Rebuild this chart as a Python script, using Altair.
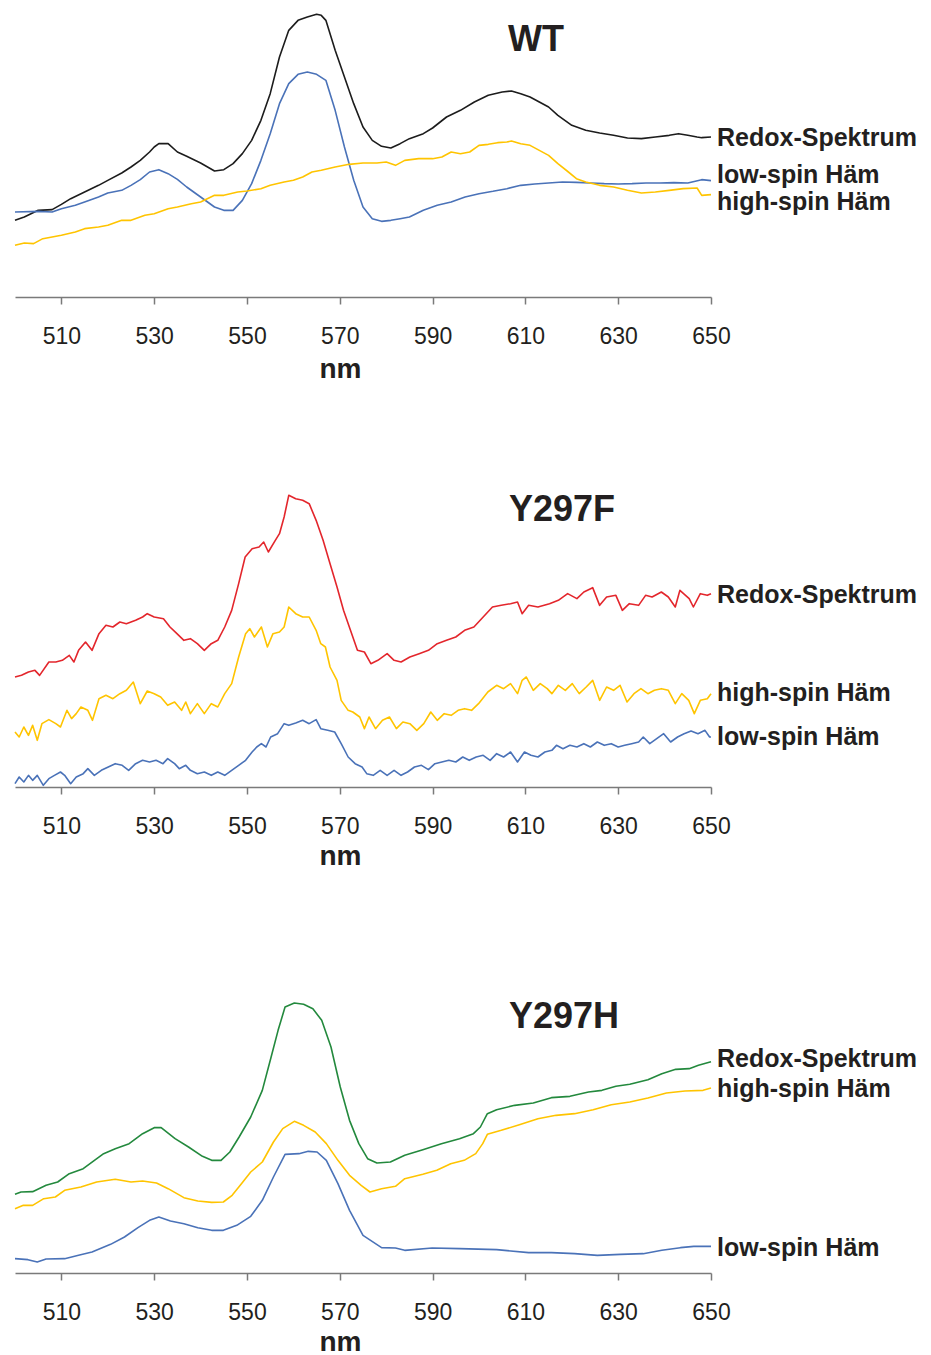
import altair as alt
import pandas as pd

# ---------------- data (difference absorbance, arbitrary units) ----------------
# Panel WT
WT_REDOX_NM = [500, 502, 505, 508, 510, 512, 515, 518, 520, 523, 525, 527, 529, 530, 531, 533, 535, 537, 540, 543,
               545, 547, 549, 551, 553, 555, 557, 559, 561, 563, 565, 566, 567, 569, 571, 573, 575, 577, 579, 581,
               583, 585, 588, 590, 593, 596, 599, 602, 605, 607, 609, 611, 613, 615, 617, 620, 623, 626, 629, 632,
               635, 638, 641, 643, 645, 647, 648, 650]
WT_REDOX = [230, 240, 260, 262, 278, 295, 315, 335, 350, 372, 390, 410, 435, 450, 460, 460, 435, 422, 402, 378,
            382, 400, 430, 470, 530, 610, 720, 800, 830, 840, 848, 845, 830, 740, 660, 580, 510, 470, 452, 447,
            460, 475, 490, 507, 540, 560, 585, 605, 615, 618, 610, 600, 585, 570, 545, 515, 500, 492, 485, 477,
            475, 480, 485, 490, 485, 480, 478, 480]

WT_LOW_NM = [500, 505, 508, 510, 513, 515, 518, 520, 523, 525, 527, 529, 531, 533, 535, 537, 540, 543, 545, 547,
             549, 551, 553, 555, 557, 559, 561, 563, 565, 567, 569, 571, 573, 575, 577, 579, 581, 583, 585, 588,
             591, 594, 597, 600, 603, 606, 609, 612, 615, 618, 621, 624, 627, 630, 633, 636, 639, 642, 645, 648, 650]
WT_LOW = [255, 257, 255, 265, 275, 285, 300, 312, 320, 335, 352, 375, 382, 370, 353, 330, 300, 270, 260, 260,
          290, 340, 410, 490, 580, 640, 668, 675, 668, 650, 560, 450, 350, 270, 235, 227, 230, 235, 240, 260,
          275, 285, 300, 310, 317, 325, 335, 339, 342, 345, 344, 342, 340, 339, 340, 342, 342, 343, 342, 352, 349]

WT_HIGH_NM = [500, 502, 504, 506, 508, 510, 513, 515, 518, 520, 523, 525, 528, 530, 533, 535, 538, 540, 543, 545,
              548, 550, 553, 555, 558, 560, 562, 564, 566, 569, 572, 575, 578, 580, 582, 584, 587, 590, 592, 594,
              596, 598, 600, 602, 604, 606, 607, 609, 611, 613, 615, 617, 619, 621, 623, 626, 629, 632, 635, 638,
              641, 644, 647, 648, 650]
WT_HIGH = [155, 162, 160, 175, 180, 185, 195, 205, 210, 215, 230, 230, 245, 250, 265, 270, 280, 285, 305, 305,
           315, 318, 325, 335, 345, 350, 360, 375, 380, 390, 398, 402, 402, 405, 395, 410, 415, 415, 420, 435,
           430, 435, 455, 458, 463, 465, 468, 460, 455, 440, 425, 400, 378, 355, 345, 335, 330, 320, 312, 315,
           320, 325, 327, 305, 307]

# Panel Y297F
F_REDOX_NM = [500.0, 501.4, 502.9, 504.3, 505.3, 507.3, 508.8, 510.2, 511.7, 512.7, 513.7, 515.2, 516.6, 518.1,
              519.6, 521.1, 522.6, 524.0, 526.0, 527.5, 528.5, 530.0, 532.0, 533.4, 534.9, 536.4, 537.8, 539.3,
              540.8, 542.3, 543.7, 545.2, 546.7, 548.2, 549.6, 551.1, 552.6, 553.6, 554.6, 556.1, 557.0, 558.0,
              559.0, 560.5, 562.0, 563.4, 564.9, 566.4, 567.9, 569.4, 570.8, 572.3, 573.8, 575.3, 576.7, 578.2,
              580.2, 581.7, 583.2, 585.1, 587.1, 589.1, 591.0, 593.0, 595.0, 596.9, 598.9, 600.9, 602.9, 604.8,
              606.8, 608.3, 609.3, 610.7, 612.7, 615.2, 617.1, 619.1, 621.1, 622.6, 624.5, 626.0, 627.5, 629.5,
              630.9, 632.4, 634.4, 635.9, 637.3, 639.3, 640.8, 642.3, 643.3, 645.3, 646.2, 647.7, 649.2, 650.0]
F_REDOX = [330, 335, 345, 350, 335, 375, 375, 380, 395, 375, 410, 435, 410, 460, 485, 480, 495, 490, 500, 510,
           520, 510, 505, 480, 460, 440, 445, 430, 410, 430, 440, 480, 530, 610, 690, 715, 720, 735, 705, 740,
           760, 810, 875, 865, 860, 850, 800, 740, 670, 600, 530, 470, 410, 405, 370, 380, 400, 380, 375, 390,
           400, 410, 430, 440, 450, 470, 480, 510, 540, 545, 550, 555, 520, 545, 540, 550, 560, 580, 565, 585,
           598, 545, 570, 575, 530, 550, 545, 575, 570, 585, 570, 540, 590, 565, 540, 580, 575, 580]

F_HIGH_NM = [500.0, 500.9, 501.9, 502.9, 503.8, 504.8, 505.8, 507.3, 508.8, 509.8, 511.2, 512.2, 513.2, 514.2,
             515.7, 516.7, 518.1, 519.6, 521.1, 522.6, 524.0, 525.5, 527.0, 528.5, 530.0, 531.4, 532.9, 534.4,
             535.9, 536.8, 537.8, 539.3, 540.8, 542.3, 543.7, 545.2, 546.7, 548.2, 549.7, 550.6, 551.6, 553.1,
             554.4, 555.6, 557.0, 558.0, 559.0, 560.5, 562.0, 563.4, 564.9, 565.9, 566.9, 567.9, 569.4, 570.3,
             571.8, 572.8, 574.3, 575.3, 576.3, 577.7, 579.2, 580.7, 582.2, 583.6, 585.1, 586.6, 588.1, 589.6,
             591.0, 592.5, 594.0, 595.5, 596.9, 598.4, 599.9, 601.9, 603.8, 605.3, 606.8, 608.3, 609.3, 610.2,
             611.7, 613.2, 614.7, 615.7, 617.1, 618.6, 620.1, 621.6, 623.1, 624.5, 626.0, 627.5, 629.0, 630.4,
             631.9, 633.4, 634.9, 636.4, 637.8, 639.3, 640.8, 642.3, 643.7, 645.2, 646.4, 647.7, 649.2, 650.0]
F_HIGH = [165, 150, 180, 155, 185, 140, 190, 202, 190, 180, 230, 205, 220, 240, 230, 200, 265, 275, 265, 280,
          290, 315, 250, 288, 280, 270, 245, 255, 230, 255, 220, 250, 220, 250, 240, 280, 310, 390, 460, 475,
          450, 480, 420, 460, 465, 480, 540, 520, 510, 510, 470, 430, 420, 360, 320, 260, 230, 225, 210, 175,
          210, 175, 200, 210, 175, 195, 190, 170, 190, 225, 200, 220, 215, 230, 235, 230, 250, 285, 305, 295,
          310, 280, 320, 330, 290, 310, 295, 280, 305, 290, 310, 280, 300, 320, 260, 300, 290, 305, 255, 280,
          295, 280, 290, 295, 290, 250, 280, 260, 220, 260, 265, 280]

F_LOW_NM = [500.0, 500.9, 501.9, 502.9, 503.8, 504.8, 506.1, 507.3, 508.5, 509.8, 510.7, 512.0, 513.2, 514.7,
            515.7, 517.1, 518.6, 520.1, 521.6, 523.1, 524.5, 526.0, 527.5, 529.0, 530.4, 531.9, 532.9, 534.4,
            535.4, 536.8, 537.8, 539.3, 540.8, 542.3, 543.7, 545.2, 546.7, 548.2, 549.7, 551.1, 552.1, 553.1,
            554.1, 555.1, 556.6, 558.0, 559.0, 560.5, 562.0, 563.4, 564.9, 565.9, 567.4, 568.9, 570.3, 571.8,
            573.3, 574.8, 575.8, 577.2, 578.7, 580.2, 581.7, 583.2, 584.6, 586.1, 587.6, 589.1, 590.5, 592.0,
            593.5, 595.0, 596.5, 597.9, 599.4, 600.9, 602.4, 603.8, 605.3, 606.8, 608.3, 609.8, 611.2, 612.7,
            614.2, 615.7, 616.7, 618.1, 619.6, 621.1, 622.6, 624.0, 625.5, 627.0, 628.5, 630.0, 631.4, 632.9,
            634.4, 635.4, 636.8, 638.3, 639.8, 641.3, 642.8, 644.2, 645.7, 647.2, 648.7, 649.7, 650.0]
F_LOW = [10, 30, 15, 35, 20, 35, 5, 25, 35, 45, 35, 10, 30, 40, 55, 35, 50, 60, 70, 65,
         50, 70, 80, 75, 80, 70, 85, 70, 55, 65, 50, 40, 45, 35, 45, 35, 50, 65, 80, 105,
         120, 130, 120, 150, 160, 190, 185, 192, 200, 190, 202, 175, 170, 165, 130, 90, 70, 60, 40, 35,
         50, 35, 50, 35, 45, 60, 65, 52, 70, 75, 80, 75, 90, 80, 90, 95, 80, 100, 90, 105,
         75, 105, 95, 90, 105, 110, 125, 115, 125, 120, 130, 120, 135, 125, 130, 120, 125, 130, 135, 150,
         130, 145, 160, 135, 150, 160, 168, 160, 170, 150, 150]

# Panel Y297H
H_REDOX_NM = [500, 501.3, 503.8, 506.7, 509.2, 511.7, 514.7, 519.1, 521.6, 524.6, 527.5, 530.0, 531.5, 534.5,
              537.4, 540.4, 542.4, 544.4, 546.3, 548.3, 550.8, 553.3, 555.2, 556.7, 558.2, 560.2, 562.2, 564.2,
              566.1, 568.1, 570.1, 572.1, 574.1, 576.0, 578.0, 580.9, 584.0, 587.9, 591.9, 595.8, 598.8, 600.3,
              601.8, 603.8, 607.7, 611.7, 615.6, 619.6, 623.6, 626.5, 629.5, 632.5, 636.4, 639.4, 642.4, 645.3,
              647.3, 650]
H_REDOX = [236, 243, 244, 263, 273, 298, 313, 358, 373, 388, 418, 436, 436, 403, 378, 350, 338, 338, 363, 408,
           468, 548, 648, 728, 798, 810, 806, 793, 758, 678, 558, 458, 388, 343, 330, 333, 353, 370, 388, 403,
           418, 438, 478, 490, 503, 510, 526, 530, 543, 548, 560, 566, 580, 598, 611, 613, 623, 634]

H_HIGH_NM = [500, 501.8, 503.8, 506.2, 508.7, 510.7, 514.2, 517.6, 521.6, 525.0, 527.5, 530.5, 533.0, 536.4,
             539.4, 542.4, 544.9, 546.8, 548.8, 550.8, 553.3, 555.7, 557.7, 560.2, 562.2, 564.7, 567.1, 569.6,
             572.1, 574.6, 576.5, 579.0, 582.0, 584.0, 587.9, 590.9, 593.9, 596.8, 599.3, 600.8, 601.8, 604.8,
             608.7, 612.7, 616.6, 620.6, 624.6, 628.5, 632.5, 636.4, 640.4, 644.4, 648.3, 650]
H_HIGH = [193, 203, 203, 223, 228, 248, 258, 273, 281, 273, 276, 270, 253, 226, 216, 212, 213, 233, 268, 303,
          333, 393, 433, 455, 443, 423, 388, 338, 293, 263, 243, 253, 260, 283, 296, 308, 328, 338, 358, 388,
          416, 428, 445, 463, 473, 478, 490, 505, 513, 525, 540, 546, 548, 555]

H_LOW_NM = [500, 502.8, 504.8, 506.7, 510.7, 513.7, 516.6, 520.6, 523.6, 526.5, 529.0, 531.0, 533.5, 536.4,
            539.4, 542.4, 544.9, 547.8, 550.8, 553.3, 555.7, 558.2, 561.2, 563.2, 565.1, 567.1, 569.6, 572.1,
            575.0, 579.0, 582.0, 584.0, 589.9, 595.8, 603.8, 610.7, 615.6, 620.6, 625.5, 630.5, 635.4, 639.4,
            643.4, 646.3, 650]
H_LOW = [43, 40, 33, 42, 43, 53, 63, 86, 108, 136, 158, 168, 156, 148, 136, 128, 128, 143, 170, 218,
         288, 356, 358, 365, 363, 338, 268, 188, 113, 76, 75, 68, 75, 73, 70, 61, 61, 58, 53, 56,
         58, 68, 76, 80, 80]

PANEL_NAMES = ["WT", "Y297F", "Y297H"]
XTICKS = [510, 530, 550, 570, 590, 610, 630, 650]

# ---------------- style ----------------
FONT = "Liberation Sans, Arial, Helvetica, sans-serif"
INK = "#231f20"
AXIS_GREY = "#7a7a7a"
C_BLACK = "#1c1c1c"
C_BLUE = "#4a72b8"
C_GOLD = "#ffc400"
C_RED = "#e3262c"
C_GREEN = "#23893d"

PLOT_W = 696


def x_enc(title_y):
    return alt.X(
        "nm:Q",
        scale=alt.Scale(domain=[500, 650], nice=False, zero=False),
        axis=alt.Axis(
            values=XTICKS, format="d", grid=False,
            title="nm", titleX=325, titleY=title_y, titleAlign="center", titleBaseline="alphabetic",
            titleFont=FONT, titleFontSize=28, titleFontWeight="bold", titleColor=INK,
            labelFont=FONT, labelFontSize=23, labelColor=INK, labelPadding=21,
            labelFlush=False, labelOverlap=False,
            tickSize=7, tickWidth=1.5, tickColor=AXIS_GREY,
            domainColor=AXIS_GREY, domainWidth=1.5,
        ),
    )


def panel(name, name_nm, name_y, series, ymax, height, title_y):
    X = x_enc(title_y)
    Y = alt.Y("A:Q", scale=alt.Scale(domain=[0, ymax], nice=False, zero=False), axis=None)
    layers = []
    for label, nm, vals, color, dy in series:
        df = pd.DataFrame({"nm": nm, "A": vals})
        layers.append(
            alt.Chart(df).mark_line(color=color, strokeWidth=1.6, strokeJoin="round").encode(x=X, y=Y)
        )
    for label, nm, vals, color, dy in series:
        ldf = pd.DataFrame({"nm": [nm[-1]], "A": [vals[-1]], "t": [label]})
        layers.append(
            alt.Chart(ldf).mark_text(
                align="left", baseline="middle", dx=6, dy=dy, font=FONT, fontSize=25,
                fontWeight="bold", color=INK,
            ).encode(x=X, y=Y, text="t:N")
        )
    tdf = pd.DataFrame({"nm": [name_nm], "t": [name]})
    layers.append(
        alt.Chart(tdf).mark_text(
            align="center", baseline="middle", font=FONT, fontSize=36, fontWeight="bold", color=INK,
        ).encode(x=X, y=alt.value(name_y), text="t:N")
    )
    return alt.layer(*layers).properties(width=PLOT_W, height=height)


p1 = panel(
    PANEL_NAMES[0], 612.3, 30,
    [("Redox-Spektrum", WT_REDOX_NM, WT_REDOX, C_BLACK, 1),
     ("low-spin Häm", WT_LOW_NM, WT_LOW, C_BLUE, -6),
     ("high-spin Häm", WT_HIGH_NM, WT_HIGH, C_GOLD, 7)],
    861, 287, 80,
)
p2 = panel(
    PANEL_NAMES[1], 617.9, 33,
    [("Redox-Spektrum", F_REDOX_NM, F_REDOX, C_RED, 1),
     ("high-spin Häm", F_HIGH_NM, F_HIGH, C_GOLD, -1),
     ("low-spin Häm", F_LOW_NM, F_LOW, C_BLUE, 0)],
    930, 310, 77,
)
p3 = panel(
    PANEL_NAMES[2], 618.3, 50,
    [("Redox-Spektrum", H_REDOX_NM, H_REDOX, C_GREEN, -3),
     ("high-spin Häm", H_HIGH_NM, H_HIGH, C_GOLD, 1),
     ("low-spin Häm", H_LOW_NM, H_LOW, C_BLUE, 2)],
    918, 306, 77,
)

chart = (
    alt.vconcat(p1, p2, p3, spacing=180, bounds="flush")
    .properties(padding={"left": 6, "top": 2, "right": 0, "bottom": 4})
    .configure_view(stroke=None)
)

chart.save("out.html", embed_options={"renderer": "svg", "actions": False})
